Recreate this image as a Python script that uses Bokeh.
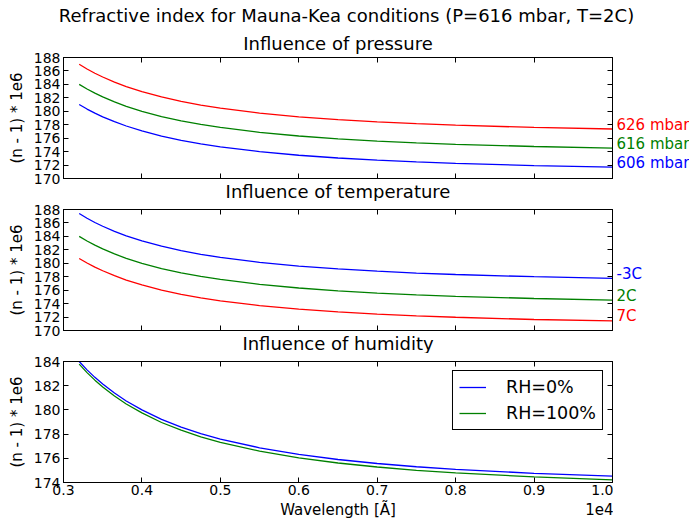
from bokeh.plotting import figure
from bokeh.models import (Range1d, FixedTicker, LinearAxis, Legend, LegendItem, Title,
                          CustomJSTickFormatter)
from bokeh.core.properties import value
from bokeh.layouts import column, row
from bokeh.embed import file_html
from bokeh.resources import INLINE

# ---------------- data ----------------
wavelength = [3200, 3300, 3400, 3500, 3650, 3800, 4000, 4250, 4500, 4750,
              5000, 5500, 6000, 6500, 7000, 7500, 8000, 9000, 10000]

p626 = [186.99, 186.29, 185.66, 185.10, 184.33, 183.67, 182.92, 182.13, 181.48, 180.93,
        180.47, 179.74, 179.18, 178.76, 178.42, 178.15, 177.93, 177.60, 177.36]
p616 = [184.00, 183.31, 182.69, 182.14, 181.39, 180.74, 180.00, 179.22, 178.58, 178.04,
        177.59, 176.87, 176.32, 175.90, 175.57, 175.30, 175.09, 174.76, 174.53]
p606 = [181.01, 180.33, 179.72, 179.18, 178.45, 177.81, 177.08, 176.31, 175.68, 175.15,
        174.71, 174.00, 173.46, 173.05, 172.72, 172.46, 172.25, 171.92, 171.70]

t_m3 = [187.41, 186.70, 186.07, 185.51, 184.75, 184.09, 183.33, 182.54, 181.89, 181.34,
        180.88, 180.14, 179.58, 179.16, 178.82, 178.55, 178.33, 178.00, 177.76]
t_2 = [184.00, 183.31, 182.69, 182.14, 181.39, 180.74, 180.00, 179.22, 178.58, 178.04,
       177.59, 176.87, 176.32, 175.90, 175.57, 175.30, 175.09, 174.76, 174.53]
t_7 = [180.72, 180.04, 179.43, 178.89, 178.15, 177.51, 176.79, 176.02, 175.39, 174.86,
       174.42, 173.71, 173.17, 172.76, 172.44, 172.17, 171.97, 171.64, 171.42]

rh_0 = [184.00, 183.31, 182.69, 182.14, 181.39, 180.74, 180.00, 179.22, 178.58, 178.04,
        177.59, 176.87, 176.32, 175.90, 175.57, 175.30, 175.09, 174.76, 174.53]
rh_100 = [183.78, 183.08, 182.46, 181.90, 181.15, 180.49, 179.75, 178.96, 178.32, 177.77,
          177.32, 176.59, 176.04, 175.61, 175.28, 175.00, 174.79, 174.46, 174.22]

x_ticks = [3000, 4000, 5000, 6000, 7000, 8000, 9000, 10000]
y_ticks_full = [170, 172, 174, 176, 178, 180, 182, 184, 186, 188]
y_ticks_hum = [174, 176, 178, 180, 182, 184]

suptitle = "Refractive index for Mauna-Kea conditions (P=616 mbar, T=2C)"
titles = ["Influence of pressure", "Influence of temperature", "Influence of humidity"]
pressure_labels = ["626 mbar", "616 mbar", "606 mbar"]
temp_labels = ["-3C", "2C", "7C"]
rh_labels = ["RH=0%", "RH=100%"]
x_axis_title = "Wavelength [Ã]"
x_offset_text = "1e4"
y_axis_title = "(n - 1) * 1e6"

BLUE, GREEN, RED = "#0000ff", "#008000", "#ff0000"
FONT = "DejaVu Sans"
LW = 1.3
BLANK = CustomJSTickFormatter(code='return "";')


def panel(top, bottom, yr, yticks, show_x):
    p = figure(frame_width=549, frame_height=121, output_backend="svg", toolbar_location=None,
               x_range=Range1d(3000, 10000), y_range=Range1d(*yr),
               min_border_left=63, min_border_right=1,
               min_border_top=top, min_border_bottom=bottom,
               background_fill_color="white", border_fill_color="white")
    p.xgrid.grid_line_color = None
    p.ygrid.grid_line_color = None
    p.outline_line_color = "black"
    p.outline_line_width = 1
    p.outline_line_alpha = 1
    xa = p.xaxis[0]
    ya = p.yaxis[0]
    top_ax = LinearAxis(formatter=BLANK)
    right_ax = LinearAxis(formatter=BLANK)
    p.add_layout(top_ax, "above")
    p.add_layout(right_ax, "right")
    for ax in (xa, top_ax):
        ax.ticker = FixedTicker(ticks=x_ticks)
    for ax in (ya, right_ax):
        ax.ticker = FixedTicker(ticks=yticks)
    for ax in (xa, ya, top_ax, right_ax):
        ax.major_tick_in = 5
        ax.major_tick_out = 0
        ax.minor_tick_in = 0
        ax.minor_tick_out = 0
        ax.minor_tick_line_color = None
        ax.major_tick_line_color = "black"
        ax.axis_line_color = "black"
        ax.major_label_text_font = FONT
        ax.major_label_text_font_size = "14px"
        ax.major_label_text_color = "black"
    for ax in (top_ax, right_ax):
        ax.major_label_standoff = 0
    ya.major_label_standoff = 3
    ya.axis_label = y_axis_title
    ya.axis_label_text_font = FONT
    ya.axis_label_text_font_size = "15px"
    ya.axis_label_text_font_style = "normal"
    ya.axis_label_text_color = "black"
    ya.axis_label_standoff = 5
    if show_x:
        xa.formatter = CustomJSTickFormatter(code="return (tick/10000).toFixed(1);")
        xa.major_label_standoff = 2
        # second row under the tick labels: axis title (centre) and the 1e4 multiplier (right)
        lab_ax = LinearAxis(
            ticker=FixedTicker(ticks=[6500, 9847]),
            formatter=CustomJSTickFormatter(
                args=dict(texts=[x_axis_title, x_offset_text]),
                code="return tick < 9000 ? texts[0] : texts[1];"))
        lab_ax.major_tick_line_color = None
        lab_ax.minor_tick_line_color = None
        lab_ax.major_tick_in = 0
        lab_ax.major_tick_out = 0
        lab_ax.minor_tick_in = 0
        lab_ax.minor_tick_out = 0
        lab_ax.axis_line_color = None
        lab_ax.major_label_standoff = 3
        lab_ax.major_label_text_font = FONT
        lab_ax.major_label_text_font_size = "15px"
        lab_ax.major_label_text_color = "black"
        p.add_layout(lab_ax, "below")
    else:
        xa.formatter = BLANK
        xa.major_label_standoff = 0
    return p


def add_title(p, text, standoff, side_name="above"):
    p.add_layout(Title(text=text, align="center", text_font=FONT, text_font_size="18px",
                       text_font_style="normal", text_color="black", standoff=standoff,
                       vertical_align="bottom"),
                 side_name)


def side(p, top, bottom, ys, labels, colors):
    s = figure(frame_width=76, frame_height=121, output_backend="svg", toolbar_location=None,
               x_range=Range1d(0, 1), y_range=p.y_range,
               min_border_left=0, min_border_right=0,
               min_border_top=top, min_border_bottom=bottom,
               x_axis_location=None, y_axis_location=None,
               background_fill_color="white", border_fill_color="white")
    s.outline_line_color = None
    s.xgrid.grid_line_color = None
    s.ygrid.grid_line_color = None
    s.text(x=[0] * len(ys), y=ys, text=labels, text_color=colors,
           x_offset=3, y_offset=-4.5, text_align="left", text_baseline="middle",
           text_font=value(FONT), text_font_size=value("15px"))
    return s


# ---- header carrying the figure title ----
# (its frame is left-aligned with the panels' frames by the column layout,
#  so a 566 px frame is centred on the page middle)
head = figure(frame_width=566, frame_height=1, output_backend="svg", toolbar_location=None,
              x_range=Range1d(0, 1), y_range=Range1d(0, 1),
              min_border_left=0, min_border_right=72, min_border_top=25, min_border_bottom=0,
              x_axis_location=None, y_axis_location=None,
              background_fill_color="white", border_fill_color="white")
head.outline_line_color = None
head.xgrid.grid_line_color = None
head.ygrid.grid_line_color = None
add_title(head, suptitle, 0)

GAP_BOTTOM = 23   # room under panels 1-2 for the next panel's title
GAP_TOP = 8

# ---- panel 1: pressure ----
p1 = panel(31, GAP_BOTTOM, (170, 188), y_ticks_full, False)
p1.line(wavelength, p626, color=RED, line_width=LW)
p1.line(wavelength, p616, color=GREEN, line_width=LW)
p1.line(wavelength, p606, color=BLUE, line_width=LW)
add_title(p1, titles[0], 8)
add_title(p1, titles[1], 0, "below")
s1 = side(p1, 31, GAP_BOTTOM, [p626[-1], p616[-1], p606[-1]], pressure_labels, [RED, GREEN, BLUE])

# ---- panel 2: temperature ----
p2 = panel(GAP_TOP, GAP_BOTTOM, (170, 188), y_ticks_full, False)
p2.line(wavelength, t_m3, color=BLUE, line_width=LW)
p2.line(wavelength, t_2, color=GREEN, line_width=LW)
p2.line(wavelength, t_7, color=RED, line_width=LW)
add_title(p2, titles[2], 0, "below")
s2 = side(p2, GAP_TOP, GAP_BOTTOM, [t_m3[-1], t_2[-1], t_7[-1]], temp_labels, [BLUE, GREEN, RED])

# ---- panel 3: humidity ----
p3 = panel(GAP_TOP, 38, (174, 184), y_ticks_hum, True)
r_dry = p3.line(wavelength, rh_0, color=BLUE, line_width=LW)
r_wet = p3.line(wavelength, rh_100, color=GREEN, line_width=LW)
legend = Legend(items=[LegendItem(label=rh_labels[0], renderers=[r_dry]),
                       LegendItem(label=rh_labels[1], renderers=[r_wet])],
                location="top_right", margin=9, padding=6, spacing=6,
                glyph_width=27, glyph_height=20, label_height=20, label_standoff=20,
                label_text_font=FONT, label_text_font_size="17.5px",
                label_text_color="black",
                border_line_color="black", border_line_width=1, border_line_alpha=1,
                background_fill_color="white", background_fill_alpha=1)
p3.add_layout(legend)

layout = column(head, row(p1, s1, spacing=0), row(p2, s2, spacing=0), p3, spacing=0)

with open("out.html", "w") as f:
    f.write(file_html(layout, INLINE))
